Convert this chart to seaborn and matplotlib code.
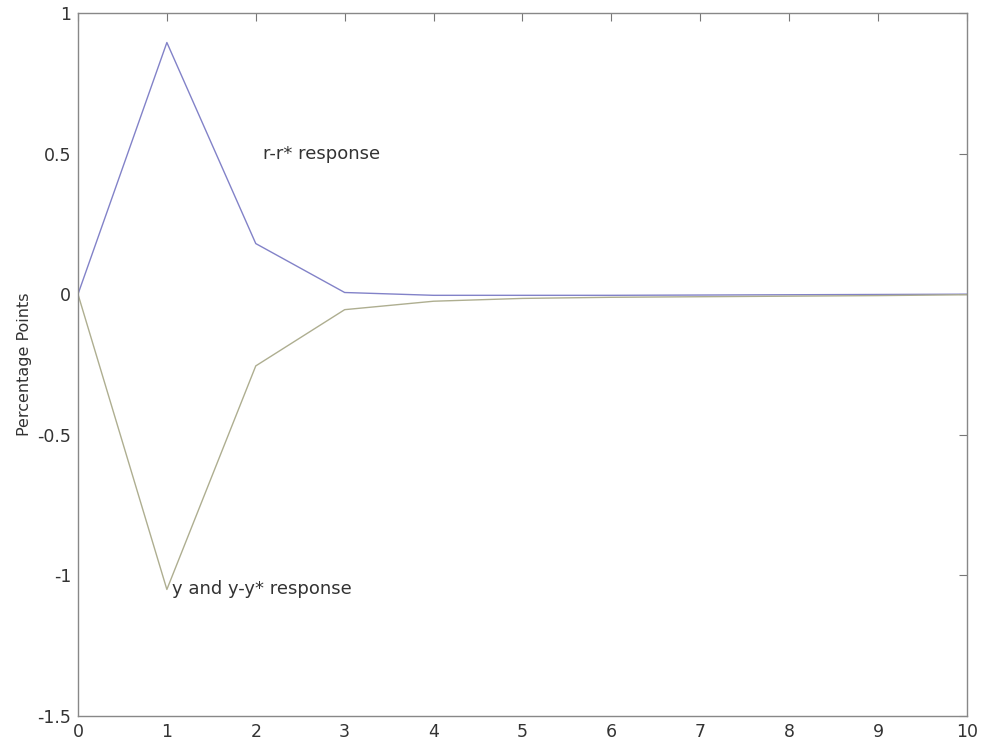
import pandas as pd
import matplotlib.pyplot as plt
import seaborn as sns

periods = [0, 1, 2, 3, 4, 5, 6, 7, 8, 9, 10]
r_resp = [0.0, 0.895, 0.18, 0.006, -0.004, -0.004, -0.004, -0.003, -0.002, -0.001, 0.0]
y_resp = [0.0, -1.05, -0.255, -0.055, -0.025, -0.015, -0.011, -0.009, -0.007, -0.005, -0.002]

df = pd.DataFrame({'period': periods, 'r': r_resp, 'y': y_resp})

sns.set_style('white')
plt.rcParams['font.family'] = ['DejaVu Sans']

fig = plt.figure(figsize=(9.87, 7.46), dpi=100)
ax = fig.add_axes([0.079, 0.0402, 0.9007, 0.9424])

sns.lineplot(data=df, x='period', y='r', color='#8282c8', linewidth=1.0, ax=ax)
sns.lineplot(data=df, x='period', y='y', color='#aeae90', linewidth=1.0, ax=ax)

ax.set_xlim(0, 10)
ax.set_ylim(-1.5, 1)
ax.set_xticks(range(0, 11))
ax.set_yticks([-1.5, -1, -0.5, 0, 0.5, 1])
ax.set_yticklabels(['-1.5', '-1', '-0.5', '0', '0.5', '1'])
ax.tick_params(direction='in', length=6, width=0.8, color='#777777',
               labelsize=12.5, labelcolor='#333333', top=True, right=True,
               pad=5)
for s in ax.spines.values():
    s.set_color('#888888')
    s.set_linewidth(1.0)

ax.set_xlabel('')
ax.set_ylabel('Percentage Points', fontsize=11.5, color='#333333', labelpad=4)

ax.text(2.08, 0.5, 'r-r* response', fontsize=13, color='#333333', va='center')
ax.text(1.06, -1.05, 'y and y-y* response', fontsize=13, color='#333333', va='center')

plt.savefig('out.png', dpi=100)
